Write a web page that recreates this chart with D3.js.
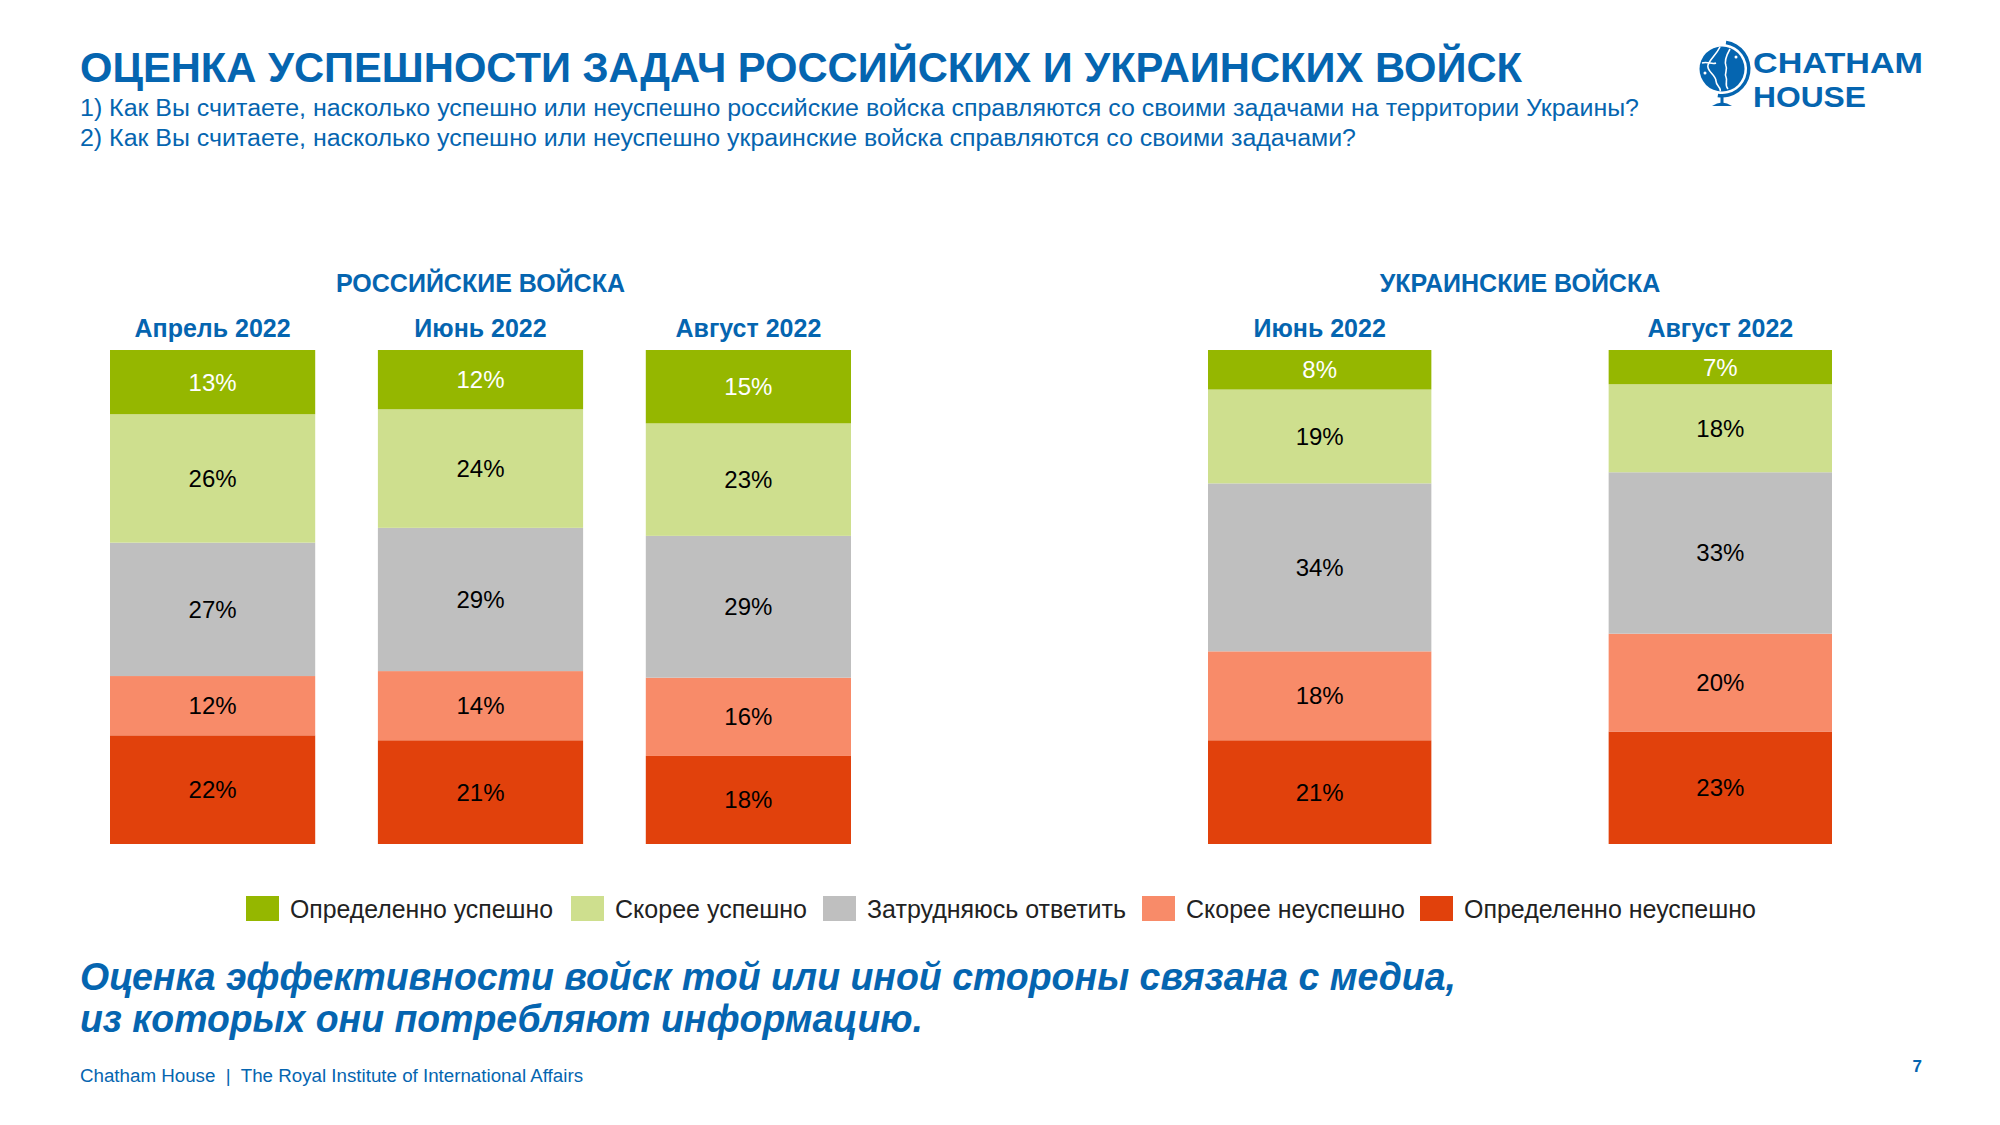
<!DOCTYPE html>
<html><head><meta charset="utf-8">
<script src="https://cdn.jsdelivr.net/npm/d3@7"></script>
<style>
html,body{margin:0;padding:0;background:#fff;}
svg{display:block;font-family:"Liberation Sans",Arial,sans-serif;}
</style></head>
<body>
<svg id="chart" width="2000" height="1125"></svg>
<script>
// ---- data ----
const categories = ["Определенно успешно","Скорее успешно","Затрудняюсь ответить","Скорее неуспешно","Определенно неуспешно"];
const colors = ["#95B700","#CEDF8E","#BFBFBF","#F88B69","#E1410C"];
const groupTitles = ["РОССИЙСКИЕ ВОЙСКА","УКРАИНСКИЕ ВОЙСКА"];
const periodsRu = ["Апрель 2022","Июнь 2022","Август 2022"];
const periodsUa = ["Июнь 2022","Август 2022"];
const ruApr = [13,26,27,12,22];
const ruJun = [12,24,29,14,21];
const ruAug = [15,23,29,16,18];
const uaJun = [8,19,34,18,21];
const uaAug = [7,18,33,20,23];
const title = "ОЦЕНКА УСПЕШНОСТИ ЗАДАЧ РОССИЙСКИХ И УКРАИНСКИХ ВОЙСК";
const question1 = "1) Как Вы считаете, насколько успешно или неуспешно российские войска справляются со своими задачами на территории Украины?";
const question2 = "2) Как Вы считаете, насколько успешно или неуспешно украинские войска справляются со своими задачами?";
const conclusion1 = "Оценка эффективности войск той или иной стороны связана с медиа,";
const conclusion2 = "из которых они потребляют информацию.";
const footer = "Chatham House  |  The Royal Institute of International Affairs";
const pageNum = "7";

const BLUE = "#0565B0";
const svg = d3.select("#chart");

// ---- header ----
svg.append("text").attr("x",80).attr("y",82).attr("fill",BLUE)
  .attr("font-size",42).attr("font-weight","bold")
  .attr("textLength",1442).attr("lengthAdjust","spacingAndGlyphs").text(title);
svg.append("text").attr("x",80).attr("y",116).attr("fill",BLUE)
  .attr("font-size",23).attr("textLength",1559).attr("lengthAdjust","spacingAndGlyphs").text(question1);
svg.append("text").attr("x",80).attr("y",146).attr("fill",BLUE)
  .attr("font-size",23).attr("textLength",1276).attr("lengthAdjust","spacingAndGlyphs").text(question2);

// ---- logo ----
const logo = svg.append("g").attr("transform","translate(1722,69)");
logo.append("path").attr("d", d3.arc()({innerRadius:25,outerRadius:28.5,startAngle:0.15,endAngle:Math.PI*1.05}))
  .attr("fill",BLUE);
logo.append("circle").attr("r",22.5).attr("fill",BLUE);
logo.append("path").attr("d","M-2,-22 C-6,-14 -12,-10 -14,-4 C-16,2 -6,6 -6,12 C-6,17 0,19 -2,22")
  .attr("fill","none").attr("stroke","#fff").attr("stroke-width",1.6);
logo.append("path").attr("d","M8,-20 C4,-13 2,-8 4,-3 C6,1 2,4 4,8 C6,12 2,16 6,20")
  .attr("fill","none").attr("stroke","#fff").attr("stroke-width",1.6);
logo.append("path").attr("d","M-20,-6 C-14,-8 -10,-4 -6,-6")
  .attr("fill","none").attr("stroke","#fff").attr("stroke-width",1.4);
logo.append("circle").attr("cx",-17).attr("cy",4).attr("r",1.5).attr("fill","#fff");
logo.append("circle").attr("cx",14).attr("cy",-12).attr("r",1.5).attr("fill","#fff");
logo.append("rect").attr("x",-1.5).attr("y",27).attr("width",3).attr("height",8).attr("fill",BLUE);
logo.append("path").attr("d","M-10,37 Q0,30 10,37 Z").attr("fill",BLUE);
svg.append("text").attr("x",1753).attr("y",73).attr("fill",BLUE).attr("font-size",30).attr("font-weight","bold")
  .attr("textLength",170).attr("lengthAdjust","spacingAndGlyphs").text("CHATHAM");
svg.append("text").attr("x",1753).attr("y",107).attr("fill",BLUE).attr("font-size",30).attr("font-weight","bold")
  .attr("textLength",113).attr("lengthAdjust","spacingAndGlyphs").text("HOUSE");

// ---- bars ----
const y = d3.scaleLinear().domain([0,1]).range([844,350]);
const stackKeys = categories.map((c,i)=>i).reverse(); // bottom = last category
const stack = d3.stack().keys(stackKeys).offset(d3.stackOffsetExpand);

function drawGroup(periods, rows, range, pad, gtitle){
  const x = d3.scaleBand().domain(periods).range(range).paddingInner(pad).paddingOuter(0);
  const data = rows.map((r,i)=>{const o={period:periods[i]}; r.forEach((v,j)=>o[j]=v); return o;});
  const series = stack(data);
  const g = svg.append("g");
  const layers = g.selectAll("g.layer").data(series).join("g").attr("class","layer")
    .attr("fill",d=>colors[d.key]);
  layers.selectAll("rect").data(d=>d.map(p=>({p,key:d.key}))).join("rect")
    .attr("x",d=>x(d.p.data.period)).attr("width",x.bandwidth())
    .attr("y",d=>y(d.p[1])).attr("height",d=>y(d.p[0])-y(d.p[1]));
  layers.selectAll("text").data(d=>d.map(p=>({p,key:d.key}))).join("text")
    .attr("x",d=>x(d.p.data.period)+x.bandwidth()/2)
    .attr("y",d=>(y(d.p[0])+y(d.p[1]))/2)
    .attr("dy","0.35em").attr("text-anchor","middle").attr("font-size",24)
    .attr("fill",d=>d.key===0?"#fff":"#000")
    .text(d=>d.p.data[d.key]+"%");
  // period labels
  g.selectAll("text.period").data(periods).join("text").attr("class","period")
    .attr("x",d=>x(d)+x.bandwidth()/2).attr("y",337).attr("text-anchor","middle")
    .attr("fill",BLUE).attr("font-weight","bold").attr("font-size",25).text(d=>d);
  g.append("text").attr("x",(range[0]+range[1])/2).attr("y",292).attr("text-anchor","middle")
    .attr("fill",BLUE).attr("font-weight","bold").attr("font-size",25).text(gtitle);
}
drawGroup(periodsRu,[ruApr,ruJun,ruAug],[110,851],0.234,groupTitles[0]);
drawGroup(periodsUa,[uaJun,uaAug],[1208,1832],0.4425,groupTitles[1]);

// ---- legend ----
const legendX = [246,571,823,1142,1420];
const legendW = [263,192,259,219,292];
const legend = svg.append("g");
categories.forEach((c,i)=>{
  legend.append("rect").attr("x",legendX[i]).attr("y",896).attr("width",33).attr("height",25).attr("fill",colors[i]);
  legend.append("text").attr("x",legendX[i]+44).attr("y",918).attr("font-size",25).attr("fill","#222")
    .attr("textLength",legendW[i]).attr("lengthAdjust","spacingAndGlyphs").text(c);
});

// ---- conclusion & footer ----
svg.append("text").attr("x",80).attr("y",990).attr("fill",BLUE).attr("font-size",39)
  .attr("font-weight","bold").attr("font-style","italic")
  .attr("textLength",1376).attr("lengthAdjust","spacingAndGlyphs").text(conclusion1);
svg.append("text").attr("x",80).attr("y",1032).attr("fill",BLUE).attr("font-size",39)
  .attr("font-weight","bold").attr("font-style","italic")
  .attr("textLength",843).attr("lengthAdjust","spacingAndGlyphs").text(conclusion2);
svg.append("text").attr("x",80).attr("y",1082).attr("fill",BLUE).attr("font-size",18)
  .attr("textLength",503).attr("lengthAdjust","spacingAndGlyphs").attr("xml:space","preserve").text(footer);
svg.append("text").attr("x",1922).attr("y",1072).attr("text-anchor","end").attr("fill",BLUE)
  .attr("font-size",17).attr("font-weight","bold").text(pageNum);
</script>
</body></html>
